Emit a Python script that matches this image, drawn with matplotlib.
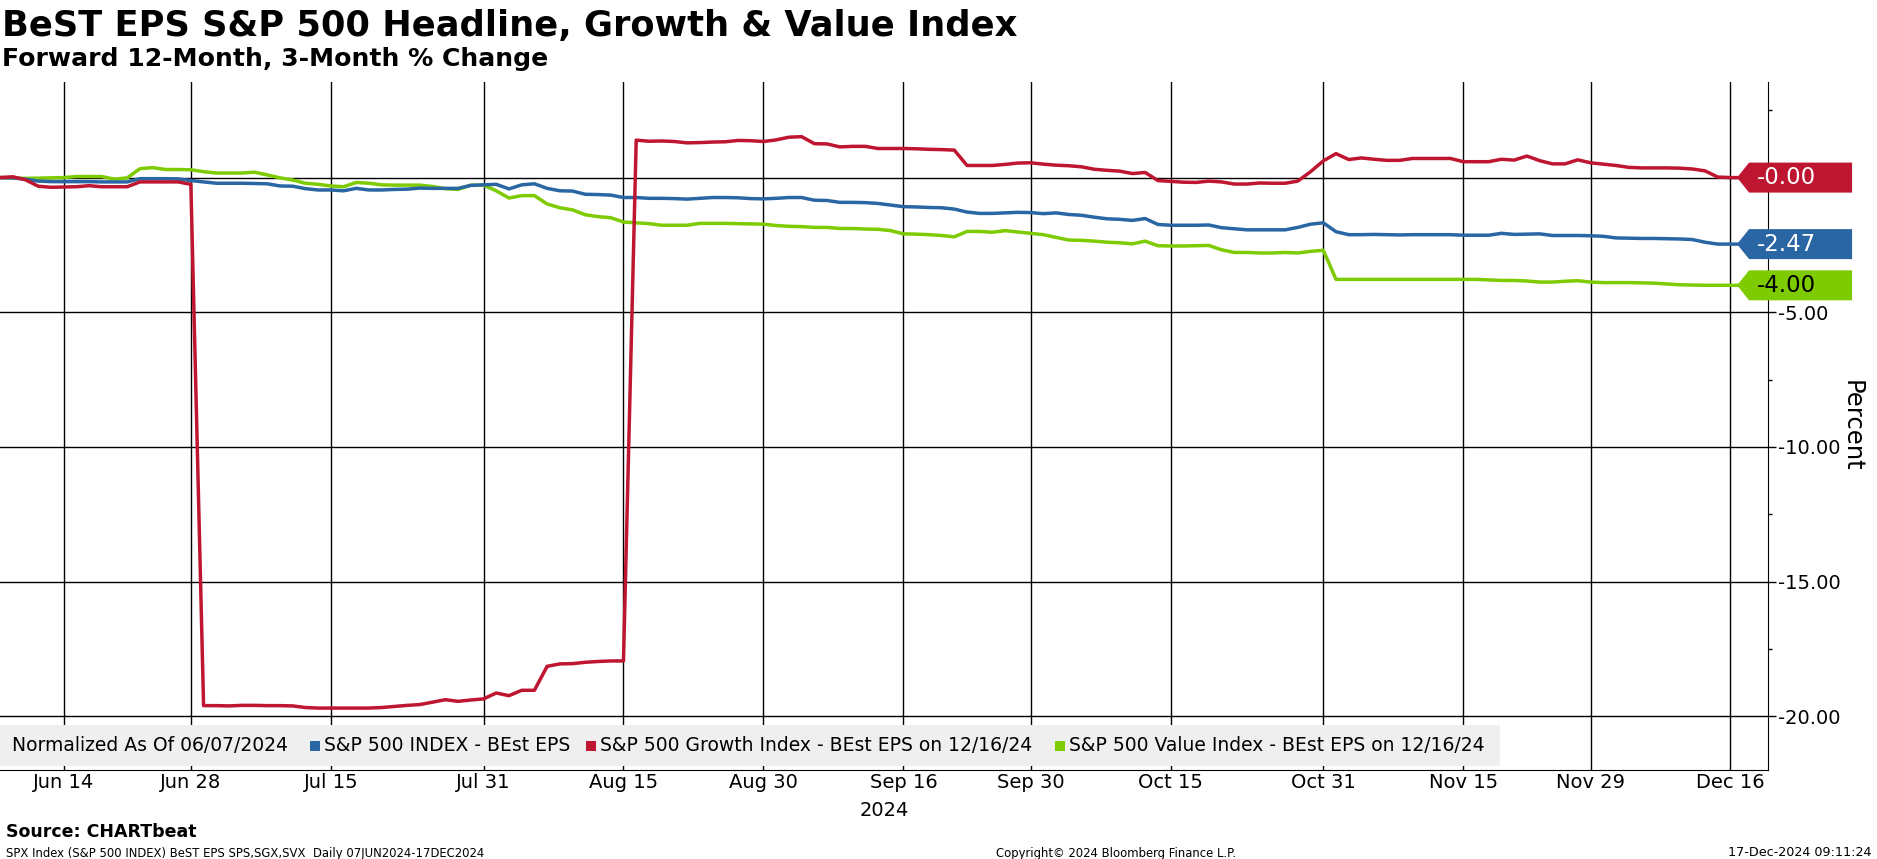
import numpy as np
import pandas as pd
import matplotlib
matplotlib.use("Agg")
import matplotlib.pyplot as plt
from matplotlib.path import Path
from matplotlib.patches import Rectangle
from matplotlib.ticker import FixedLocator, FuncFormatter, MultipleLocator

# ---------------- data ----------------
start_date = "2024-06-07"
end_date = "2024-12-17"

growth = [0.00, 0.03, -0.08, -0.32, -0.36, -0.35, -0.34, -0.30, -0.34, -0.34,
          -0.34, -0.16, -0.16, -0.16, -0.16, -0.25, -19.61, -19.61, -19.62, -19.60,
          -19.60, -19.61, -19.61, -19.62, -19.68, -19.70, -19.70, -19.70, -19.70, -19.70,
          -19.68, -19.64, -19.60, -19.57, -19.48, -19.39, -19.45, -19.40, -19.36, -19.14,
          -19.24, -19.04, -19.04, -18.15, -18.06, -18.05, -18.00, -17.97, -17.95, -17.95,
          1.39, 1.35, 1.36, 1.34, 1.29, 1.30, 1.32, 1.33, 1.38, 1.37,
          1.34, 1.40, 1.50, 1.52, 1.26, 1.25, 1.14, 1.16, 1.16, 1.08,
          1.08, 1.08, 1.07, 1.05, 1.04, 1.02, 0.45, 0.45, 0.45, 0.49,
          0.54, 0.55, 0.50, 0.46, 0.44, 0.40, 0.31, 0.27, 0.24, 0.15,
          0.19, -0.11, -0.14, -0.17, -0.18, -0.13, -0.16, -0.24, -0.24, -0.20,
          -0.21, -0.21, -0.13, 0.22, 0.62, 0.89, 0.67, 0.73, 0.68, 0.64,
          0.64, 0.71, 0.71, 0.71, 0.71, 0.59, 0.59, 0.59, 0.68, 0.65,
          0.80, 0.63, 0.51, 0.51, 0.66, 0.55, 0.50, 0.45, 0.38, 0.36,
          0.36, 0.36, 0.35, 0.32, 0.25, 0.02, 0.00, 0.00]

headline = [0.00, -0.01, -0.06, -0.13, -0.15, -0.15, -0.15, -0.15, -0.16, -0.16,
            -0.16, -0.04, -0.04, -0.04, -0.05, -0.11, -0.16, -0.21, -0.21, -0.21,
            -0.22, -0.23, -0.31, -0.32, -0.41, -0.46, -0.46, -0.49, -0.40, -0.46,
            -0.46, -0.44, -0.43, -0.39, -0.40, -0.40, -0.40, -0.29, -0.27, -0.25,
            -0.42, -0.27, -0.23, -0.40, -0.49, -0.50, -0.62, -0.63, -0.65, -0.74,
            -0.74, -0.77, -0.77, -0.78, -0.80, -0.77, -0.74, -0.74, -0.75, -0.78,
            -0.79, -0.77, -0.74, -0.74, -0.84, -0.85, -0.92, -0.92, -0.93, -0.96,
            -1.02, -1.08, -1.09, -1.11, -1.12, -1.17, -1.28, -1.33, -1.33, -1.31,
            -1.29, -1.30, -1.34, -1.31, -1.37, -1.40, -1.47, -1.53, -1.55, -1.59,
            -1.52, -1.74, -1.77, -1.77, -1.77, -1.76, -1.86, -1.90, -1.94, -1.94,
            -1.94, -1.94, -1.85, -1.73, -1.68, -2.01, -2.12, -2.12, -2.11, -2.12,
            -2.13, -2.12, -2.12, -2.12, -2.12, -2.14, -2.14, -2.14, -2.07, -2.11,
            -2.10, -2.09, -2.15, -2.15, -2.15, -2.16, -2.18, -2.24, -2.25, -2.26,
            -2.26, -2.27, -2.28, -2.30, -2.40, -2.47, -2.47, -2.47]

value = [0.00, -0.01, -0.03, -0.02, -0.01, 0.00, 0.04, 0.04, 0.04, -0.06,
         -0.01, 0.33, 0.37, 0.30, 0.30, 0.29, 0.22, 0.17, 0.17, 0.17,
         0.20, 0.10, -0.01, -0.09, -0.21, -0.25, -0.31, -0.34, -0.18, -0.21,
         -0.27, -0.28, -0.28, -0.28, -0.33, -0.41, -0.44, -0.28, -0.28, -0.49,
         -0.76, -0.67, -0.67, -0.98, -1.12, -1.20, -1.38, -1.45, -1.49, -1.65,
         -1.68, -1.71, -1.77, -1.77, -1.77, -1.70, -1.70, -1.70, -1.71, -1.72,
         -1.73, -1.78, -1.81, -1.82, -1.85, -1.85, -1.89, -1.89, -1.91, -1.92,
         -1.97, -2.09, -2.10, -2.12, -2.15, -2.20, -2.00, -2.00, -2.03, -1.97,
         -2.02, -2.07, -2.12, -2.22, -2.32, -2.33, -2.36, -2.40, -2.42, -2.46,
         -2.36, -2.53, -2.54, -2.54, -2.53, -2.52, -2.68, -2.78, -2.78, -2.80,
         -2.80, -2.78, -2.80, -2.74, -2.70, -3.78, -3.78, -3.78, -3.78, -3.78,
         -3.78, -3.78, -3.78, -3.78, -3.78, -3.78, -3.78, -3.80, -3.82, -3.82,
         -3.84, -3.88, -3.88, -3.85, -3.83, -3.88, -3.90, -3.90, -3.90, -3.91,
         -3.92, -3.95, -3.98, -3.99, -4.00, -4.00, -4.00, -4.00]

tick_dates = ["2024-06-14", "2024-06-28", "2024-07-15", "2024-07-31", "2024-08-15",
              "2024-08-30", "2024-09-16", "2024-09-30", "2024-10-15", "2024-10-31",
              "2024-11-15", "2024-11-29", "2024-12-16"]
tick_labels = ["Jun 14", "Jun 28", "Jul 15", "Jul 31", "Aug 15", "Aug 30", "Sep 16",
               "Sep 30", "Oct 15", "Oct 31", "Nov 15", "Nov 29", "Dec 16"]
y_ticks = [-20, -15, -10, -5, 0]

legend_note = "Normalized As Of 06/07/2024"
series_names = ["S&P 500 INDEX - BEst EPS",
                "S&P 500 Growth Index - BEst EPS on 12/16/24",
                "S&P 500 Value Index - BEst EPS on 12/16/24"]

# ---------------- style ----------------
RED = "#BE1530"
BLUE = "#2A66A3"
GREEN = "#7DCB00"
W, H = 1877, 859

plt.rcParams["font.family"] = ["DejaVu Sans"]

dates = pd.bdate_range(start_date, end_date)
x = np.arange(len(dates))
tick_pos = [dates.get_loc(pd.Timestamp(d)) for d in tick_dates]

fig = plt.figure(figsize=(W / 100, H / 100), dpi=100)
ax_left, ax_right, ax_top, ax_bottom = 0, 1768, 82, 770
ax = fig.add_axes([ax_left / W, 1 - ax_bottom / H, (ax_right - ax_left) / W,
                   (ax_bottom - ax_top) / H])

ax.plot(x, value, color=GREEN, lw=2.5, zorder=3, solid_joinstyle="round")
ax.plot(x, growth, color=RED, lw=2.5, zorder=4, solid_joinstyle="round")
ax.plot(x, headline, color=BLUE, lw=2.5, zorder=3.5, solid_joinstyle="round")

ax.set_xlim(0, 138.95)
ax.set_ylim(-22.0, 3.55)

# grid / ticks
ax.xaxis.set_major_locator(FixedLocator(tick_pos))
ax.set_xticklabels(tick_labels)
ax.yaxis.set_major_locator(FixedLocator(y_ticks))
ax.yaxis.set_minor_locator(MultipleLocator(2.5))
ax.yaxis.set_major_formatter(FuncFormatter(lambda v, p: "" if v == 0 else f"{v:.2f}"))
ax.yaxis.tick_right()
ax.grid(True, which="major", axis="both", color="black", lw=1.0, zorder=1)
ax.set_axisbelow(True)
ax.tick_params(axis="x", which="both", length=0, labelsize=14, pad=2)
ax.tick_params(axis="y", which="major", direction="out", length=6, width=1,
               labelsize=14, pad=1, right=True, left=False)
ax.tick_params(axis="y", which="minor", direction="out", length=3, width=1,
               right=True, left=False)
for s in ["left", "top"]:
    ax.spines[s].set_visible(False)
ax.spines["right"].set_color("black")
ax.spines["bottom"].set_color("black")

ax.yaxis.set_label_position("right")
ax.set_ylabel("Percent", rotation=270, fontsize=17.5, labelpad=17)

ax.annotate("2024", xy=(0.5, 0), xycoords="axes fraction", xytext=(0, -29),
            textcoords="offset points", ha="center", va="center", fontsize=14)

# legend band (Bloomberg style, drawn over the grid)
band_y0, band_y1 = 725, 766
fig.add_artist(Rectangle((0, 1 - band_y1 / H), 1500 / W, (band_y1 - band_y0) / H,
                         transform=fig.transFigure, fc="#EFEFEF", ec="none", zorder=5))
yc = 1 - (band_y0 + band_y1) / 2 / H
fig.text(12 / W, yc, legend_note, fontsize=13.5, ha="left", va="center", zorder=6)
for name, col, sq_x in zip(series_names, (BLUE, RED, GREEN), (310, 586, 1055)):
    fig.add_artist(Rectangle((sq_x / W, yc - 5 / H), 10 / W, 10 / H,
                             transform=fig.transFigure, fc=col, ec="none", zorder=6))
    fig.text((sq_x + 14) / W, yc, name, fontsize=13.5, ha="left", va="center", zorder=6)


# end-value tags
def make_tag(box_w, tip_w=12, pad_l=8, pad_v=3.5):
    def tag(x0, y0, width, height, mutation_size):
        left = x0 - pad_l
        right = left + box_w
        b = y0 - pad_v
        t = y0 + height + pad_v
        verts = [(left, b), (right, b), (right, t), (left, t),
                 (left - tip_w, (b + t) / 2), (left, b)]
        return Path(verts, [Path.MOVETO] + [Path.LINETO] * 4 + [Path.CLOSEPOLY])
    return tag


last = len(x) - 1
for vals, col, tcol in [(growth, RED, "white"), (headline, BLUE, "white"),
                        (value, GREEN, "black")]:
    ax.annotate(f"{vals[-1]:.2f}" if vals[-1] != 0 else "-0.00",
                xy=(x[last], vals[-1]), xycoords="data",
                xytext=(10, 0), textcoords="offset points",
                ha="left", va="center", fontsize=16.5, color=tcol,
                annotation_clip=False, zorder=8,
                bbox=dict(boxstyle=make_tag(103), fc=col, ec="none"))


# titles and footers
def fit(t, target):
    fig.canvas.draw()
    w = t.get_window_extent().width
    t.set_fontsize(t.get_fontsize() * target / w)


t1 = fig.text(2 / W, 1 - 36 / H, "BeST EPS S&P 500 Headline, Growth & Value Index",
              fontsize=26, fontweight="bold", ha="left", va="baseline")
fit(t1, 1015)
t2 = fig.text(2 / W, 1 - 66 / H, "Forward 12-Month, 3-Month % Change",
              fontsize=18, fontweight="bold", ha="left", va="baseline")
fit(t2, 548)
t3 = fig.text(6 / W, 1 - 832 / H, "Source: CHARTbeat", fontsize=12,
              fontweight="bold", ha="left", va="center")
fit(t3, 190)
t4 = fig.text(6 / W, 1 - 853 / H,
              "SPX Index (S&P 500 INDEX) BeST EPS SPS,SGX,SVX  Daily 07JUN2024-17DEC2024",
              fontsize=9, ha="left", va="center")
fit(t4, 480)
t5 = fig.text(1116 / W, 1 - 853 / H, "Copyright\u00a9 2024 Bloomberg Finance L.P.",
              fontsize=9, ha="center", va="center")
fit(t5, 240)
t6 = fig.text(1872 / W, 1 - 853 / H, "17-Dec-2024 09:11:24", fontsize=9,
              ha="right", va="center")
fit(t6, 143)

fig.savefig("out.png", dpi=100)
